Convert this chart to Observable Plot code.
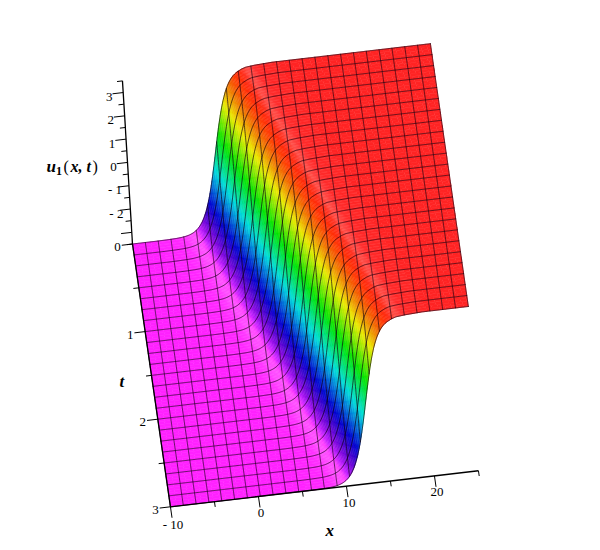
<!DOCTYPE html>
<html><head><meta charset="utf-8">
<script src="https://cdn.jsdelivr.net/npm/d3@7"></script>
<script src="https://cdn.jsdelivr.net/npm/@observablehq/plot@0.6"></script>
<style>html,body{margin:0;padding:0;background:#fff}svg{display:block}</style>
</head><body><div id="chart"></div>
<script>
// Mesh lines over x in [-10,25], t in [0,3]: 25 x 25
const meshX = d3.range(25).map(i => -10 + 35 * i / 24);
const meshT = d3.range(25).map(j => 3 * j / 24);
const waveSpeed = 4.25;
// Kink profile u against phase (x - speed*t), read from the silhouette
const phase  = [-30,-8,-7,-6,-5,-4.5,-4,-3.75,-3.5,-3.25,-3,-2.75,-2.5,-2.25,-2,-1.75,-1.5,-1.25,-1,-.75,-.5,-.25,0,.25,.5,.75,1,1.25,1.5,1.75,2,2.25,2.5,2.75,3,3.25,3.5,3.75,4,4.5,5,6,7,8,30];
const uValue = [-3.5,-3.5,-3.5,-3.495,-3.483,-3.469,-3.443,-3.423,-3.397,-3.361,-3.314,-3.251,-3.168,-3.059,-2.918,-2.736,-2.507,-2.223,-1.88,-1.477,-1.02,-.521,0,.521,1.02,1.477,1.88,2.223,2.507,2.736,2.918,3.059,3.168,3.251,3.314,3.361,3.41,3.44,3.47,3.49,3.51,3.53,3.55,3.55,3.55];
// Lighting read along the profile
const lightPhase = [-30,-6,-5,-4,-3.5,-3,-2.5,-2,-1.5,-1,-.5,0,.5,1,1.5,2,2.5,3,3.5,4,4.5,5,6,30];
const shade  = [1,1,1,1,1,.97,.9,.85,.8,.82,.86,.88,.9,.92,.93,.95,1,1,1,1,1,1,1,1];
const gloss  = [.13,.13,.14,.2,.28,.3,.14,.03,0,0,0,0,0,0,0,0,0,.02,.12,.28,.22,.16,.14,.14];
// Axis ticks
const uMajor = [-3,-2,-1,0,1,2,3];
const uMinor = [-3.5,-2.5,-1.5,-.5,.5,1.5,2.5,3.5];
const uLabels = [[-2,"- 2"],[-1,"- 1"],[0,"0"],[1,"1"],[2,"2"],[3,"3"]];
const tMajor = [0,1,2,3];
const tMinor = [.5,1.5,2.5];
const xMajor = [-10,0,10,20];
const xMinor = [-5,5,15,25];

const low = -3.5;
const project = (x, t, u) => [
  132 + 8.8 * (x + 10) + 12.65 * t - 1.43 * (u - low),
  243.5 - 1.03 * (x + 10) + 87.6 * t - 23.3 * (u - low)
];
const profile = d3.scaleLinear(phase, uValue);
const shadeAt = d3.scaleLinear(lightPhase, shade);
const glossAt = d3.scaleLinear(lightPhase, gloss);
const place = (x, t) => project(x, t, profile(x - waveSpeed * t));
function colorAt(x, t) {
  const p = x - waveSpeed * t, u = profile(p);
  const hue = 300 * (1 - (Math.min(u, 3.5) - low) / 7);
  const c = d3.rgb(d3.hsl(hue, 1, .5));
  const m = shadeAt(p), g = glossAt(p) * 255;
  const ch = v => Math.min(255, v * m + g);
  return d3.rgb(ch(c.r), ch(c.g), ch(c.b)).formatHex();
}
// Surface facets: fine across the kink, coarse on the plateaus
const dt = 3 / 96;
const facets = [];
let id = 0;
for (let r = 0; r < 96; r++) {
  const t0 = r * dt, t1 = t0 + dt;
  const xs = [];
  let x = -10;
  while (x < 25) {
    xs.push(x);
    const fine = Math.abs(x - waveSpeed * t0) < 7.5 || Math.abs(x - waveSpeed * t1) < 7.5;
    x += fine ? .1 : .7;
  }
  xs.push(25);
  for (let k = 0; k + 1 < xs.length; k++) {
    const a = xs[k], b = xs[k + 1];
    const col = colorAt((a + b) / 2, (t0 + t1) / 2);
    id++;
    for (const [px, pt] of [[a,t0],[b,t0],[b,t1],[a,t1]]) {
      const q = place(px, pt);
      facets.push({id, sx: q[0], sy: q[1], col});
    }
  }
}
const mesh = [];
meshT.forEach((t, j) => {
  for (const x of [...d3.range(-10, 25, .1), 25]) {
    const q = place(x, t);
    mesh.push({line: "t" + j, sx: q[0], sy: q[1]});
  }
});
meshX.forEach((x, i) => {
  for (const t of [...d3.range(0, 3, .01), 3]) {
    const q = place(x, t);
    mesh.push({line: "x" + i, sx: q[0], sy: q[1]});
  }
});
// segments in (x,t,u) space
const seg = (p, q) => { const a = project(...p), b = project(...q); return {x1:a[0],y1:a[1],x2:b[0],y2:b[1]}; };
const tk = 1.22, tkm = .62;
const axisLines = [
  seg([-10,0,-3.5],[-10,0,3.5]),
  seg([-10,0,-3.5],[-10,3,-3.5]),
  seg([-10,3,-3.5],[25,3,-3.5])
];
const ticks = [
  ...uMajor.map(u => seg([-10,0,u],[-10-tk,0,u])),
  ...tMajor.map(t => seg([-10,t,low],[-10-tk,t,low])),
  ...xMajor.map(x => seg([x,3,low],[x,3.125,low])),
  ...uMinor.map(u => seg([-10,0,u],[-10-tkm,0,u])),
  ...tMinor.map(t => seg([-10,t,low],[-10-tkm,t,low])),
  ...xMinor.map(x => seg([x,3,low],[x,3.06,low]))
];
const lab = (p, s, dx, dy, anchor) => { const a = project(...p); return {x:a[0]+dx, y:a[1]+dy, s, anchor}; };
const tickText = [
  ...uLabels.map(([u,s]) => lab([-10,0,u], s, -14, 8.5, "end")),
  ...tMajor.map(t => lab([-10,t,low], String(t), -15, 7, "end")),
  ...xMajor.map(x => lab([x,3,low], x < 0 ? "- 10" : String(x), 2.5, x < 0 ? 22.5 : 20.5, "middle"))
];
const serif = "Liberation Serif";
const uBase = project(-10,0,0);
const titleItalic = [
  {x:uBase[0]-81, y:uBase[1]+10, s:"u", size:17},
  {x:uBase[0]-57, y:uBase[1]+10, s:"x, t", size:16}
];
const titleSub = [{x:uBase[0]-71.5, y:uBase[1]+13, s:"1"}];
const titleParen = [
  {x:uBase[0]-64, y:uBase[1]+10, s:"("},
  {x:uBase[0]-35, y:uBase[1]+10, s:")"}
];
const tT = project(-10,1.6,low), xT = project(6.5,3,low);
const axisTitles = [
  {x:tT[0]-31, y:tT[1]+3, s:"t"},
  {x:xT[0]+14, y:xT[1]+46, s:"x"}
];

const plot = Plot.plot({
  width: 600, height: 550, margin: 0,
  x: {domain: [0, 600], range: [0, 600], axis: null},
  y: {domain: [0, 550], range: [0, 550], axis: null},
  color: {type: "identity"},
  style: {background: "#fff"},
  marks: [
    Plot.line(facets, {x:"sx", y:"sy", z:"id", fill:"col", stroke:"col", strokeWidth:.6, curve:"linear"}),
    Plot.line(mesh, {x:"sx", y:"sy", z:"line", stroke:"#100010", strokeWidth:1, strokeOpacity:.65, curve:"linear"}),
    Plot.link(axisLines, {x1:"x1", y1:"y1", x2:"x2", y2:"y2", stroke:"#000", strokeWidth:1.3}),
    Plot.link(ticks, {x1:"x1", y1:"y1", x2:"x2", y2:"y2", stroke:"#000", strokeWidth:1}),
    Plot.text(tickText, {x:"x", y:"y", text:"s", textAnchor:"anchor", lineAnchor:"bottom", fontFamily:serif, fontSize:13, fill:"#000"}),
    Plot.text(titleItalic, {x:"x", y:"y", text:"s", textAnchor:"start", lineAnchor:"bottom", fontFamily:serif, fontWeight:"bold", fontStyle:"italic", fontSize:d=>d.size, fill:"#000"}),
    Plot.text(titleSub, {x:"x", y:"y", text:"s", textAnchor:"start", lineAnchor:"bottom", fontFamily:serif, fontWeight:"bold", fontSize:12, fill:"#000"}),
    Plot.text(titleParen, {x:"x", y:"y", text:"s", textAnchor:"start", lineAnchor:"bottom", fontFamily:serif, fontSize:16, fill:"#000"}),
    Plot.text(axisTitles, {x:"x", y:"y", text:"s", textAnchor:"middle", lineAnchor:"bottom", fontFamily:serif, fontWeight:"bold", fontStyle:"italic", fontSize:17, fill:"#000"})
  ]
});
document.getElementById("chart").append(plot);
</script></body></html>
